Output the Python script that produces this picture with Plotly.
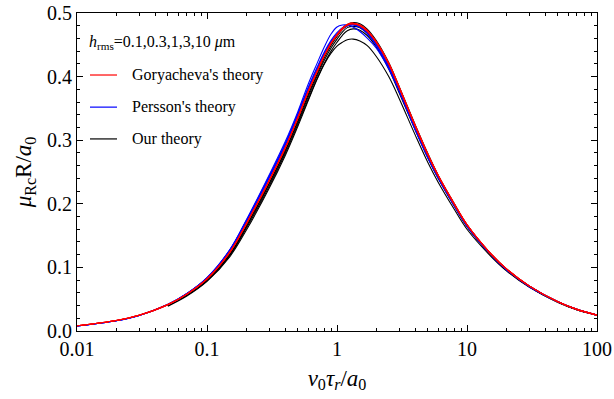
import plotly.graph_objects as go

# ---- data ----
X = [0.01, 0.02, 0.03, 0.05, 0.07, 0.1, 0.15, 0.2, 0.3, 0.4, 0.5, 0.6, 0.7, 0.8, 0.9,
     1.0, 1.1, 1.2, 1.33, 1.5, 1.7, 2.0, 2.5, 3.0, 4.0, 5.0, 6.0, 8.0, 10, 15, 20, 30, 50, 70, 100]
XB = X[3:]  # "Our theory" curves start at 0.05

H_LABELS = ["0.1", "0.3", "1", "3", "10"]

# Goryacheva's theory (red)
G_01 = [0.0083, 0.0166, 0.0248, 0.0415, 0.058, 0.082, 0.124, 0.168, 0.236, 0.288, 0.335, 0.376, 0.407, 0.433, 0.452,
        0.465, 0.475, 0.481, 0.483, 0.480, 0.472, 0.454, 0.420, 0.383, 0.322, 0.277, 0.244, 0.199, 0.167, 0.123, 0.098, 0.071, 0.046, 0.034, 0.025]
G_03 = [0.0083, 0.0166, 0.0248, 0.0415, 0.058, 0.082, 0.124, 0.168, 0.236, 0.288, 0.335, 0.376, 0.407, 0.433, 0.452,
        0.465, 0.475, 0.481, 0.483, 0.480, 0.472, 0.454, 0.420, 0.383, 0.322, 0.277, 0.244, 0.199, 0.167, 0.123, 0.098, 0.071, 0.046, 0.034, 0.025]
G_1 = [0.0083, 0.0166, 0.0248, 0.0414, 0.058, 0.082, 0.124, 0.168, 0.236, 0.288, 0.335, 0.376, 0.407, 0.433, 0.452,
       0.465, 0.475, 0.481, 0.483, 0.480, 0.472, 0.455, 0.421, 0.384, 0.322, 0.277, 0.244, 0.199, 0.167, 0.123, 0.098, 0.071, 0.046, 0.034, 0.025]
G_3 = [0.0083, 0.0165, 0.0247, 0.0414, 0.058, 0.082, 0.124, 0.168, 0.236, 0.288, 0.335, 0.376, 0.407, 0.433, 0.452,
       0.466, 0.476, 0.482, 0.484, 0.481, 0.473, 0.455, 0.421, 0.384, 0.323, 0.278, 0.245, 0.199, 0.167, 0.123, 0.098, 0.071, 0.046, 0.034, 0.025]
G_10 = [0.0083, 0.0165, 0.0247, 0.0414, 0.058, 0.082, 0.124, 0.168, 0.236, 0.288, 0.336, 0.377, 0.408, 0.434, 0.453,
        0.466, 0.476, 0.482, 0.484, 0.481, 0.473, 0.455, 0.421, 0.384, 0.323, 0.278, 0.245, 0.200, 0.167, 0.123, 0.098, 0.071, 0.046, 0.034, 0.025]

# Persson's theory (blue)
P_01 = [0.0078, 0.016, 0.0245, 0.0415, 0.0585, 0.083, 0.127, 0.172, 0.241, 0.293, 0.340, 0.380, 0.411, 0.436, 0.454,
        0.466, 0.475, 0.480, 0.482, 0.479, 0.471, 0.452, 0.418, 0.381, 0.320, 0.276, 0.243, 0.198, 0.166, 0.122, 0.097, 0.071, 0.046, 0.034, 0.025]
P_03 = [0.0078, 0.016, 0.0245, 0.0415, 0.0585, 0.083, 0.127, 0.172, 0.241, 0.293, 0.340, 0.380, 0.411, 0.436, 0.454,
        0.466, 0.475, 0.480, 0.482, 0.479, 0.471, 0.452, 0.418, 0.381, 0.320, 0.276, 0.243, 0.198, 0.166, 0.122, 0.097, 0.071, 0.046, 0.034, 0.025]
P_1 = [0.0078, 0.016, 0.0245, 0.0416, 0.0586, 0.083, 0.127, 0.172, 0.242, 0.294, 0.341, 0.381, 0.412, 0.437, 0.455,
       0.467, 0.476, 0.480, 0.482, 0.479, 0.470, 0.451, 0.417, 0.380, 0.319, 0.275, 0.243, 0.198, 0.166, 0.122, 0.097, 0.071, 0.046, 0.034, 0.025]
P_3 = [0.0078, 0.016, 0.0245, 0.0417, 0.0588, 0.0835, 0.1275, 0.173, 0.243, 0.295, 0.342, 0.383, 0.414, 0.439, 0.457,
       0.469, 0.477, 0.481, 0.481, 0.477, 0.468, 0.449, 0.415, 0.379, 0.318, 0.274, 0.242, 0.197, 0.165, 0.122, 0.097, 0.070, 0.046, 0.034, 0.025]
P_10 = [0.0078, 0.016, 0.0245, 0.042, 0.059, 0.084, 0.128, 0.174, 0.245, 0.298, 0.345, 0.388, 0.420, 0.447, 0.467,
        0.478, 0.481, 0.481, 0.478, 0.471, 0.461, 0.445, 0.412, 0.377, 0.316, 0.272, 0.240, 0.196, 0.165, 0.122, 0.097, 0.070, 0.046, 0.034, 0.025]

# Our theory (black), from 0.05
B_01 = [0.0405, 0.057, 0.081, 0.122, 0.166, 0.234, 0.286, 0.333, 0.373, 0.405, 0.432, 0.451, 0.465, 0.476, 0.482, 0.485,
        0.483, 0.475, 0.457, 0.422, 0.385, 0.324, 0.279, 0.245, 0.200, 0.167, 0.123, 0.098, 0.071, 0.046, 0.034, 0.025]
B_03 = [0.0403, 0.0567, 0.0805, 0.121, 0.165, 0.232, 0.284, 0.331, 0.371, 0.403, 0.430, 0.449, 0.463, 0.474, 0.480, 0.482,
        0.480, 0.472, 0.454, 0.419, 0.382, 0.322, 0.277, 0.243, 0.199, 0.166, 0.122, 0.097, 0.070, 0.0455, 0.0335, 0.025]
B_1 = [0.040, 0.0565, 0.080, 0.120, 0.163, 0.230, 0.282, 0.328, 0.368, 0.400, 0.426, 0.445, 0.459, 0.470, 0.477, 0.479,
       0.477, 0.469, 0.451, 0.416, 0.379, 0.319, 0.274, 0.241, 0.197, 0.165, 0.122, 0.097, 0.070, 0.0455, 0.0335, 0.025]
B_3 = [0.040, 0.056, 0.079, 0.119, 0.161, 0.227, 0.279, 0.325, 0.364, 0.396, 0.421, 0.440, 0.454, 0.465, 0.472, 0.475,
       0.473, 0.465, 0.447, 0.412, 0.375, 0.316, 0.272, 0.240, 0.196, 0.164, 0.121, 0.096, 0.070, 0.0455, 0.0335, 0.025]
B_10 = [0.039, 0.055, 0.078, 0.117, 0.158, 0.224, 0.276, 0.322, 0.362, 0.395, 0.420, 0.437, 0.448, 0.454, 0.458, 0.459,
        0.456, 0.449, 0.432, 0.400, 0.366, 0.308, 0.265, 0.234, 0.191, 0.160, 0.119, 0.095, 0.069, 0.045, 0.0335, 0.025]

GORYACHEVA = [G_01, G_03, G_1, G_3, G_10]
PERSSON = [P_01, P_03, P_1, P_3, P_10]
OURS = [B_01, B_03, B_1, B_3, B_10]

LEGEND_NAMES = ["Goryacheva's theory", "Persson's theory", "Our theory"]
COLORS = ["#ff0000", "#0000ff", "#000000"]

FONT = "Liberation Serif"

fig = go.Figure()

for h, ys in zip(H_LABELS, OURS):
    fig.add_trace(go.Scatter(x=XB, y=ys, mode="lines", line=dict(color=COLORS[2], width=1.1, shape="spline"),
                             name=f"Our theory, h={h}", showlegend=False))
for h, ys in zip(H_LABELS, PERSSON):
    fig.add_trace(go.Scatter(x=X, y=ys, mode="lines", line=dict(color=COLORS[1], width=1.1, shape="spline"),
                             name=f"Persson, h={h}", showlegend=False))
for h, ys in zip(H_LABELS, GORYACHEVA):
    fig.add_trace(go.Scatter(x=X, y=ys, mode="lines", line=dict(color=COLORS[0], width=1.1, shape="spline"),
                             name=f"Goryacheva, h={h}", showlegend=False))

# ---- hand-made legend (in axis-domain coordinates) ----
row_y = [0.805, 0.704, 0.604]
for name, col, yy in zip(LEGEND_NAMES, COLORS, row_y):
    fig.add_shape(type="line", xref="x domain", yref="y domain", x0=0.025, x1=0.077, y0=yy, y1=yy,
                  line=dict(color=col, width=1.2))
    fig.add_annotation(xref="x domain", yref="y domain", x=0.101, y=yy, text=name, showarrow=False,
                       xanchor="left", yanchor="middle", font=dict(family=FONT, size=16, color="black"))

fig.add_annotation(xref="x domain", yref="y domain", x=0.019, y=0.906,
                   text="<i>h</i><sub>rms</sub>=0.1,0.3,1,3,10 <i>μ</i>m", showarrow=False,
                   xanchor="left", yanchor="middle", font=dict(family=FONT, size=16, color="black"))

minor_x = [m * 10.0 ** e for e in range(-2, 2) for m in range(2, 10)]

fig.update_layout(
    width=614, height=399,
    margin=dict(l=77, r=17, t=13, b=68, autoexpand=False),
    paper_bgcolor="white", plot_bgcolor="white",
    font=dict(family=FONT, size=20, color="black"),
    showlegend=False,
    xaxis=dict(
        type="log", range=[-2, 2], automargin=False,
        tickvals=[0.01, 0.1, 1, 10, 100], ticktext=["0.01", "0.1", "1", "10", "100"],
        ticks="inside", ticklen=6, tickwidth=1, tickcolor="black",
        showline=True, linecolor="black", linewidth=1, mirror="ticks",
        showgrid=False, zeroline=False,
        minor=dict(tickvals=minor_x, ticks="inside", ticklen=3, tickwidth=1, tickcolor="black", showgrid=False),
        tickfont=dict(family=FONT, size=20),
        title=dict(text="<i>v</i><sub>0</sub><i>τ</i><sub><i>r</i></sub>/<i>a</i><sub>0</sub>",
                   font=dict(family=FONT, size=23), standoff=10),
    ),
    yaxis=dict(
        range=[0, 0.5], dtick=0.1, tick0=0, tickformat=".1f", automargin=False,
        ticks="inside", ticklen=6, tickwidth=1, tickcolor="black",
        showline=True, linecolor="black", linewidth=1, mirror="ticks",
        showgrid=False, zeroline=False,
        minor=dict(dtick=0.02, ticks="inside", ticklen=3, tickwidth=1, tickcolor="black", showgrid=False),
        tickfont=dict(family=FONT, size=20),
        title=dict(text="<i>μ</i><sub>Rc</sub>R/<i>a</i><sub>0</sub>",
                   font=dict(family=FONT, size=23), standoff=8),
    ),
)

fig.write_html("out.html")
